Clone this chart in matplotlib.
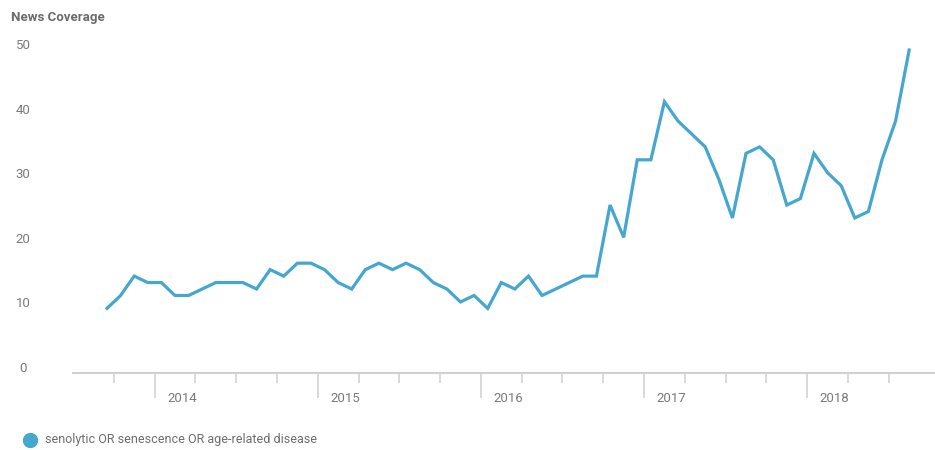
#!/usr/bin/env python3
# -*- coding: utf-8 -*-

import numpy as np
import matplotlib
matplotlib.use("Agg")
import matplotlib.pyplot as plt
import matplotlib.transforms as mtransforms
from matplotlib.lines import Line2D

# ========= DATA =========
# monthly counts, Sep 2013 .. Aug 2018
START_YEAR, START_MONTH = 2013, 9
COVERAGE = [10, 12, 15, 14, 14, 12, 12, 13, 14, 14,
            14, 13, 16, 15, 17, 17, 16, 14, 13, 16,
            17, 16, 17, 16, 14, 13, 11, 12, 10, 14,
            13, 15, 12, 13, 14, 15, 15, 26, 21, 33,
            33, 42, 39, 37, 35, 30, 24, 34, 35, 33,
            26, 27, 34, 31, 29, 24, 25, 33, 39, 50]
YEARS = [2014, 2015, 2016, 2017, 2018]
Y_TICKS = [0, 10, 20, 30, 40, 50]
SERIES_LABEL = "senolytic OR senescence OR age-related disease"
TITLE = "News Coverage"

# ========= STYLE =========
LINE_COLOR = "#45a7cf"
TEXT_COLOR = "#7a7a7a"
AXIS_COLOR = "#cfcfcf"
W, H = 935, 450

plt.rcParams["font.family"] = ["Roboto", "DejaVu Sans"]

# months counted from Jan 2013, points sit mid-month
x = np.array([(START_YEAR - 2013) * 12 + START_MONTH - 1 + i + 0.5
              for i in range(len(COVERAGE))])
y = np.array(COVERAGE)

fig = plt.figure(figsize=(W / 100, H / 100), dpi=100)
px = 6.46  # pixels per unit
ax = fig.add_axes([73 / W, (H - 373) / H, (W - 73) / W, 55 * px / H])

ax.plot(x, y, color=LINE_COLOR, lw=2.3, solid_joinstyle="miter", clip_on=False)

ax.set_xlim(6.0, 69.4)
ax.set_ylim(0, 55)

for s in ["top", "left", "right"]:
    ax.spines[s].set_visible(False)
ax.spines["bottom"].set_color(AXIS_COLOR)
ax.spines["bottom"].set_linewidth(1.4)

# year ticks long, quarter ticks short
year_pos = [(yr - 2013) * 12 for yr in YEARS]
quarter_pos = [m for m in range(9, 69, 3) if m not in year_pos]
ax.set_xticks(year_pos)
ax.set_xticks(quarter_pos, minor=True)
ax.set_xticklabels([])
ax.tick_params(axis="x", which="major", length=18, width=1.1, color=AXIS_COLOR)
ax.tick_params(axis="x", which="minor", length=7.2, width=1.1, color=AXIS_COLOR)
ax.set_yticks([])

xtrans = mtransforms.blended_transform_factory(ax.transData, fig.transFigure)
for yr, pos in zip(YEARS, year_pos):
    ax.text(pos + 2, 1 - 398 / H, str(yr), transform=xtrans, ha="center",
            va="center", fontsize=9.5, color=TEXT_COLOR)

ytrans = mtransforms.blended_transform_factory(fig.transFigure, ax.transData)
offset = mtransforms.ScaledTranslation(0, 4.5 / 100, fig.dpi_scale_trans)
for v in Y_TICKS:
    ax.text(23 / W, v, str(v), transform=ytrans + offset, ha="center",
            va="center", fontsize=9.5, color=TEXT_COLOR)

fig.text(11 / W, 1 - 18 / H, TITLE, ha="left", va="center", fontsize=9.5,
         fontweight="bold", color="#6b6b6b")

# legend
fig.add_artist(Line2D([30 / W], [1 - 440 / H], marker="o", markersize=10,
                      color=LINE_COLOR, transform=fig.transFigure))
fig.text(45 / W, 1 - 440 / H, SERIES_LABEL, ha="left", va="center",
         fontsize=9, color="#6e6e6e")

fig.savefig("out.png", dpi=100)
